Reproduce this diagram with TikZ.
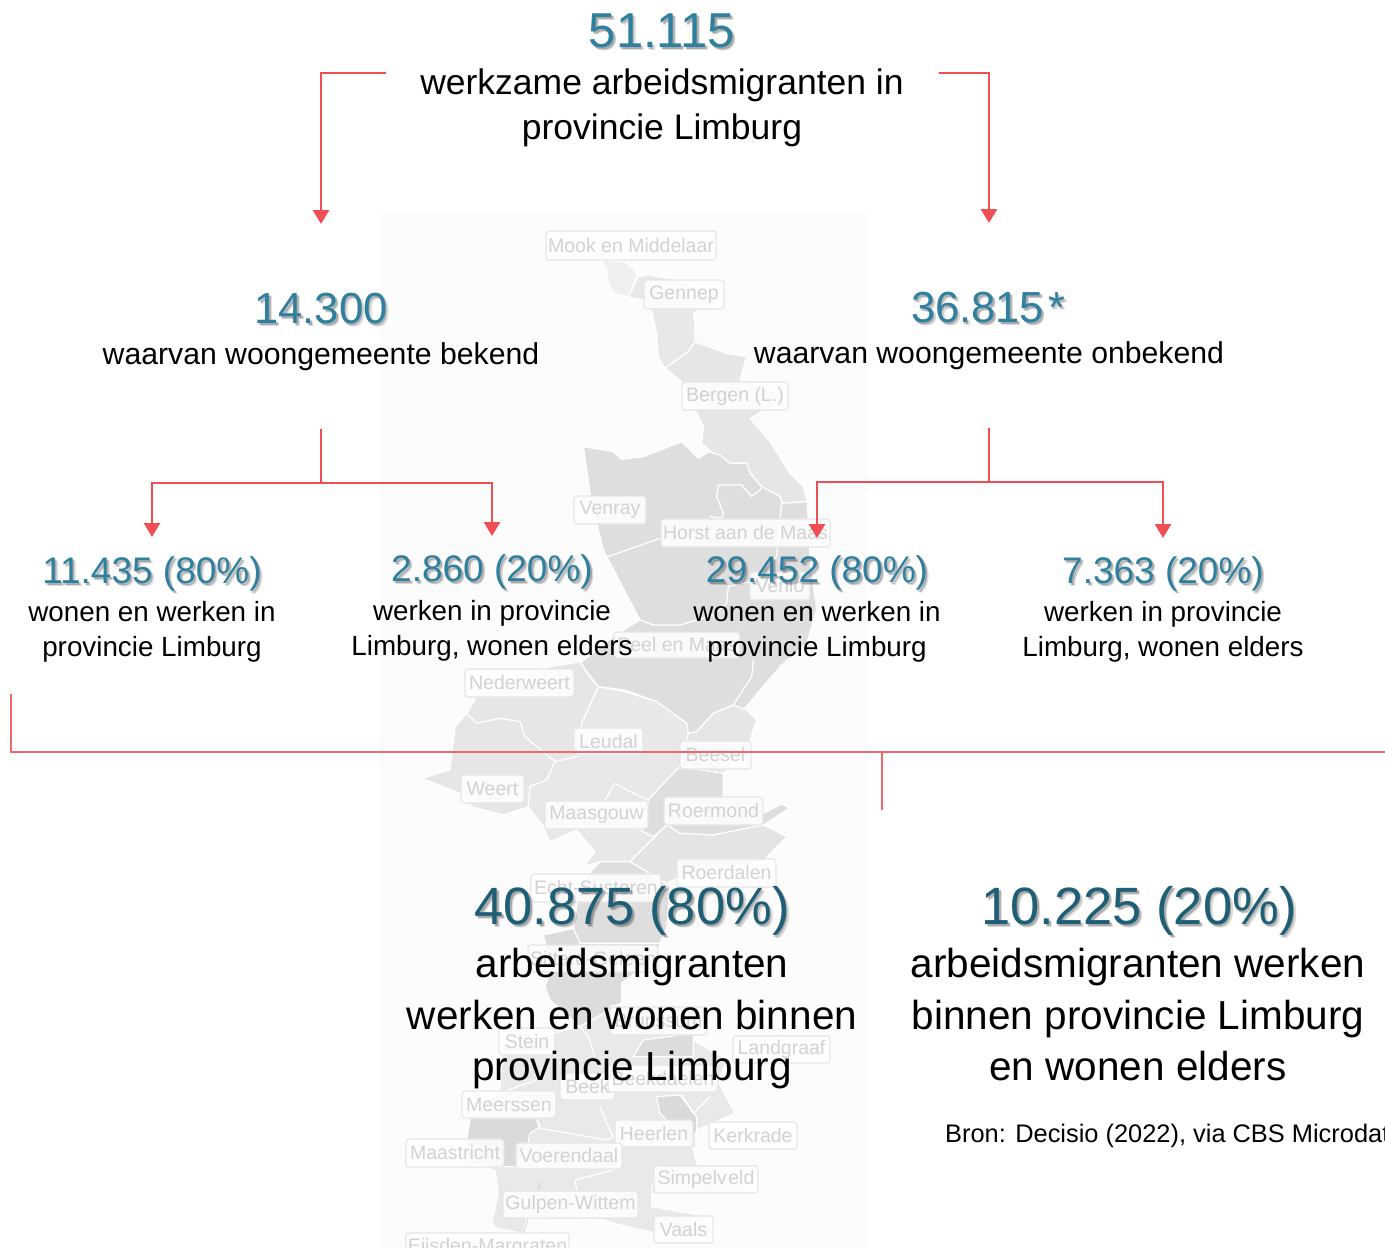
\documentclass[tikz,border=0pt]{standalone}
\usepackage{fontspec}
\setmainfont{Liberation Sans}
\usetikzlibrary{arrows.meta}
\definecolor{teal1}{HTML}{2F7F9F}
\definecolor{teal2}{HTML}{1F5F75}
\definecolor{redl}{HTML}{F04E55}
\definecolor{redt}{HTML}{F2686E}
\definecolor{lbltext}{HTML}{D2D2D2}
\definecolor{lblline}{HTML}{E6E6E6}
\definecolor{gFC}{HTML}{FCFCFC}
\definecolor{gF0}{HTML}{F0F0F0}
\definecolor{gE9}{HTML}{E9E9E9}
\definecolor{gE8}{HTML}{E8E8E8}
\definecolor{gE6}{HTML}{E6E6E6}
\definecolor{gE4}{HTML}{E4E4E4}
\definecolor{gDE}{HTML}{DEDEDE}
\definecolor{gDC}{HTML}{DCDCDC}
\definecolor{gDA}{HTML}{DADADA}
\definecolor{gD8}{HTML}{D8D8D8}
\definecolor{gD0}{HTML}{D0D0D0}
\newcommand{\fs}[2]{\fontsize{#1}{#2}\selectfont}
\tikzset{
  reg/.style={fill=#1,draw=white,line width=1.2pt,line join=round},
  wl/.style={draw=white,line width=1.3pt,line join=round},
  lbl/.style={draw=lblline,fill=white,fill opacity=.85,text opacity=1,text=lbltext,rounded corners=3pt,line width=1.2pt,inner sep=0pt,font=\fs{19.5}{22}},
  numA/.style={font=\fs{49}{52}},
  numB/.style={font=\fs{43.5}{46}},
  numC/.style={font=\fs{37}{40}},
  numD/.style={font=\fs{52.5}{56}},
  capA/.style={align=center,inner sep=0pt,font=\fs{35.5}{45}},
  capB/.style={align=center,inner sep=0pt,font=\fs{30.2}{36}},
  capC/.style={align=center,inner sep=0pt,font=\fs{27.8}{35}},
  capD/.style={align=center,inner sep=0pt,font=\fs{40.5}{51.5}},
  conn/.style={draw=redl,line width=2.8pt},
  arrowconn/.style={conn,-{Triangle[length=14pt,width=16pt]}},
  thin/.style={draw=redt,line width=1.1pt}
}
\newcommand{\numnode}[5]{%
  \node[#3,inner sep=0pt,text=black,text opacity=.14] (#1s2) at (#2) [xshift=3pt,yshift=-3pt] {#5};
  \node[#3,inner sep=0pt,text=black,text opacity=.22] (#1s1) at (#2) [xshift=1.6pt,yshift=-1.6pt] {#5};
  \node[#3,inner sep=0pt,text=#4] (#1) at (#2) {#5};
}
\newcommand{\lab}[6]{\node[lbl,minimum width={(#3-#2)*1pt},minimum height={(#5-#4)*1pt}] (#1) at ({(#2+#3)/2},{(#4+#5)/2}) {#6};}
\begin{document}
\begin{tikzpicture}[x=1pt,y=-1pt]
\useasboundingbox (0,0) rectangle (1385,1248);
\clip (0,0) rectangle (1385,1248);
\fill[white] (0,0) rectangle (1385,1248);
\fill[gFC] (380,213) rectangle (866,1248);
% upper map (zoom-1 frame)
\begin{scope}[shift={(380,210)},x=0.33333pt,y=-0.33333pt]
 \path[reg=gF0] (660,150)--(735,155)--(765,180)--(770,200)--(745,262)--(700,250)--(685,220)--(680,175)--cycle;
 \path[reg=gE8] (745,262)--(775,200)--(805,195)--(880,208)--(1030,260)--(940,310)--(945,345)--(945,395)--(925,425)--(855,475)--(835,440)--(830,370)--(815,300)--(790,270)--cycle;
 \path[reg=gE6] (855,475)--(925,425)--(945,395)--(1040,430)--(1100,440)--(1080,510)--(1225,560)--(1110,625)--(1170,695)--(1230,790)--(1270,830)--(1282,875)--(1205,880)--(1200,860)--(1145,830)--(1110,790)--(1100,760)--(1050,760)--(1000,730)--(965,700)--(970,650)--(905,515)--cycle;
 \path[reg=gDE] (610,710)--(700,725)--(725,748)--(790,740)--(905,695)--(955,745)--(985,725)--(1020,735)--(1050,760)--(1100,760)--(1110,790)--(1145,830)--(1200,860)--(1205,880)--(1282,875)--(1290,1050)--(1310,1200)--(1280,1300)--(1200,1370)--(1090,1500)--(1060,1485)--(1000,1510)--(950,1565)--(920,1570)--(920,1540)--(830,1475)--(735,1440)--(655,1430)--(600,1360)--(700,1280)--(780,1230)--(670,1020)--(635,880)--cycle;
 \draw[wl] (670,1045)--(840,985);
 \draw[wl] (1145,835)--(1115,860)--(1085,825)--(1015,825)--(1010,860)--(1030,910)--(1025,925)--(990,920);
 \draw[wl] (780,1230)--(820,1245)--(900,1245)--(1000,1215)--(1040,1180)--(1045,1130)--(1110,1115)--(1190,1040)--(1200,930)--(1205,880);
 \draw[wl] (1120,1350)--(1115,1400)--(1060,1485);
\end{scope}
% middle map (zoom-2 frame)
\begin{scope}[shift={(380,550)},x=0.33333pt,y=-0.33333pt]
 \path[reg=gE6] (260,490)--(290,440)--(510,350)--(600,335)--(640,395)--(655,410)--(605,520)--(600,570)--(610,615)--(525,635)--(435,560)--(420,515)--(360,505)--(290,520)--cycle;
 \path[reg=gE6] (260,490)--(290,520)--(360,505)--(420,515)--(435,560)--(525,635)--(500,690)--(450,710)--(445,770)--(370,795)--(275,770)--(240,730)--(125,685)--(210,660)--(225,530)--cycle;
 \path[reg=gE8] (655,410)--(735,425)--(830,455)--(920,520)--(925,550)--(900,650)--(860,690)--(805,750)--(800,790)--(780,840)--(820,860)--(860,825)--(750,935)--(660,935)--(610,950)--(645,905)--(590,840)--(510,875)--(490,830)--(445,770)--(450,710)--(500,690)--(525,635)--(610,615)--(600,570)--(605,520)--cycle;
 \draw[wl] (675,750)--(705,700)--(740,720)--(805,750);
 \path[reg=gE6] (925,550)--(950,545)--(1000,490)--(1060,465)--(1100,480)--(1130,510)--(1100,600)--(1030,670)--(900,650)--cycle;
 \path[reg=gDE] (805,750)--(860,690)--(900,650)--(1030,670)--(1030,745)--(1150,745)--(1150,790)--(1205,762)--(1228,775)--(1150,825)--(1000,855)--(900,850)--(860,825)--(820,860)--(780,840)--(800,790)--cycle;
 \path[reg=gE4] (860,825)--(900,850)--(1000,855)--(1150,825)--(1222,860)--(1180,900)--(1150,935)--(890,985)--(860,1000)--(840,990)--(750,935)--cycle;
 \path[reg=gDE] (660,935)--(750,935)--(840,990)--(870,1010)--(860,1135)--(840,1180)--(600,1180)--(580,1140)--(600,1000)--cycle;
\end{scope}
% lower map (zoom-3 frame)
\begin{scope}[shift={(380,900)},x=0.33333pt,y=-0.33333pt]
 \path[reg=gDC] (490,105)--(580,85)--(600,130)--(840,130)--(830,170)--(725,250)--(725,310)--(600,380)--(510,300)--(495,260)--(515,200)--cycle;
 \path[reg=gE9] (370,430)--(520,400)--(600,380)--(725,310)--(690,320)--(980,320)--(940,420)--(1040,480)--(1015,545)--(1065,640)--(950,690)--(945,750)--(950,790)--(1130,880)--(815,880)--(815,920)--(960,945)--(1000,1000)--(830,1000)--(720,975)--(640,950)--(440,955)--(430,1000)--(350,985)--(335,970)--(355,880)--(345,810)--(260,790)--(260,710)--(270,660)--(360,570)--cycle;
 \path[reg=gDA] (262,710)--(270,655)--(470,655)--(480,680)--(450,700)--(440,745)--(410,800)--(345,800)--(262,790)--cycle;
 \path[reg=gDA] (830,590)--(900,585)--(950,650)--(950,690)--(935,730)--(880,680)--(840,640)--cycle;
 \path[reg=gDC] (790,420)--(940,400)--(940,470)--(850,470)--(760,470)--cycle;
 \draw[wl] (600,380)--(625,410)--(645,470);
 \draw[wl] (370,575)--(470,540);
 \draw[wl] (470,660)--(480,685)--(680,720)--(700,710)--(680,670)--(660,620);
 \draw[wl] (905,585)--(940,640)--(990,590);
 \draw[wl] (590,870)--(585,840)--(700,810);
 \draw[wl] (815,920)--(815,870)--(830,800);
 \draw[wl] (950,790)--(935,730);
 \draw[draw=gD0,line width=.8pt] (485,845)--(470,880) (445,955)--(430,1000);
\end{scope}
% map labels
\lab{mook}{546}{716}{231}{260}{Mook en Middelaar}
\lab{gennep}{644}{724}{280}{309}{Gennep}
\lab{bergen}{682}{788}{382}{410}{Bergen (L.)}
\lab{venray}{574}{646}{496}{524}{Venray}
\lab{horst}{661}{830}{519}{547}{Horst aan de Maas}
\lab{venlo}{750}{810}{572}{600}{Venlo}
\lab{peel}{614}{740}{632}{658}{Peel en Maas}
\lab{nederweert}{465}{574}{669}{697}{Nederweert}
\lab{leudal}{574}{643}{728}{755}{Leudal}
\lab{beesel}{680}{751}{741}{769}{Beesel}
\lab{weert}{461}{524}{775}{803}{Weert}
\lab{maasgouw}{545}{648}{801}{829}{Maasgouw}
\lab{roermond}{664}{763}{797}{825}{Roermond}
\lab{roerdalen}{677}{776}{859}{887}{Roerdalen}
\lab{echt}{531}{661}{874}{902}{Echt-Susteren}
\lab{sittard}{528}{658}{945}{972}{Sittard-Geleen}
\lab{brunssum}{610}{707}{1007}{1035}{Brunssum}
\lab{stein}{499}{555}{1028}{1055}{Stein}
\lab{landgraaf}{733}{830}{1036}{1063}{Landgraaf}
\lab{beek}{560}{615}{1073}{1100}{Beek}
\lab{beekdaelen}{608}{718}{1065}{1092}{Beekdaelen}
\lab{meerssen}{462}{556}{1091}{1118}{Meerssen}
\lab{heerlen}{615}{693}{1120}{1147}{Heerlen}
\lab{kerkrade}{709}{797}{1122}{1149}{Kerkrade}
\lab{maastricht}{406}{504}{1139}{1167}{Maastricht}
\lab{voerendaal}{516}{622}{1143}{1169}{Voerendaal}
\lab{simpelveld}{654}{758}{1166}{1193}{Simpelv\kern1.5pt eld}
\lab{gulpen}{503}{638}{1191}{1218}{Gulpen-Wittem}
\lab{vaals}{654}{713}{1216}{1243}{Vaals}
\lab{eijsden}{406}{569}{1233}{1262}{Eijsden-Margraten}
% numbers
\numnode{total}{662,31}{numA}{teal1}{51.115}
\numnode{known}{321,309}{numB}{teal1}{14.300}
\numnode{unknown}{988,308}{numB}{teal1}{36.815\kern4pt*}
\numnode{a}{152,574}{numC}{teal1}{11.435 (80\%)}
\numnode{b}{492,572}{numC}{teal1}{2.860 (20\%)}
\numnode{c}{817,573}{numC}{teal1}{29.452 (80\%)}
\numnode{d}{1163,574}{numC}{teal1}{7.363 (20\%)}
\numnode{sumA}{632,911}{numD}{teal2}{40.875 (80\%)}
\numnode{sumB}{1139,911}{numD}{teal2}{10.225 (20\%)}
% captions
\node[capA] (totalcap) at (662,108) {werkzame arbeidsmigranten in\\provincie Limburg};
\node[capB] (knowncap) at (321,357) {waarvan woongemeente bekend};
\node[capB] (unknowncap) at (989,356) {waarvan woongemeente onbekend};
\node[capC] (acap) at (152,632) {wonen en werken in\\provincie Limburg};
\node[capC] (bcap) at (492,631) {werken in provincie\\Limburg, wonen elders};
\node[capC] (ccap) at (817,632) {wonen en werken in\\provincie Limburg};
\node[capC] (dcap) at (1163,632) {werken in provincie\\Limburg, wonen elders};
\node[capD] (sumAcap) at (632,1019) {arbeidsmigranten\\werken en wonen binnen\\provincie Limburg};
\node[capD] (sumBcap) at (1138,1015) {arbeidsmigranten werken\\binnen provincie Limburg\\en wonen elders};
\node[anchor=west,inner sep=0pt,font=\fs{25.4}{30}] (source) at (945,1136) {Bron: Decisio (2022), via CBS Microdata};
% connectors
\coordinate (tl) at (386,73);
\coordinate (tr) at (939,73);
\coordinate (knownstart) at (321,429);
\coordinate (knownhub) at (321,483);
\coordinate (unknownstart) at (989,428);
\coordinate (unknownhub) at (989,482);
\coordinate (known0) at (321,224);
\coordinate (unknown0) at (989,223);
\coordinate (a0) at (152,537);
\coordinate (b0) at (492,536);
\coordinate (c0) at (817,538);
\coordinate (d0) at (1163,538);
\draw[arrowconn] (tl) -| (known0);
\draw[arrowconn] (tr) -| (unknown0);
\draw[conn] (knownstart) -- (knownhub);
\draw[arrowconn] (knownhub) -| (a0);
\draw[arrowconn] (knownhub) -| (b0);
\draw[conn] (unknownstart) -- (unknownhub);
\draw[arrowconn] (unknownhub) -| (c0);
\draw[arrowconn] (unknownhub) -| (d0);
\coordinate (brA) at (11,694);
\coordinate (brB) at (1385,752);
\coordinate (brT) at (882,752);
\coordinate (brS) at (882,810);
\draw[thin] (brA) |- (brB);
\draw[thin] (brT) -- (brS);
\end{tikzpicture}
\end{document}
